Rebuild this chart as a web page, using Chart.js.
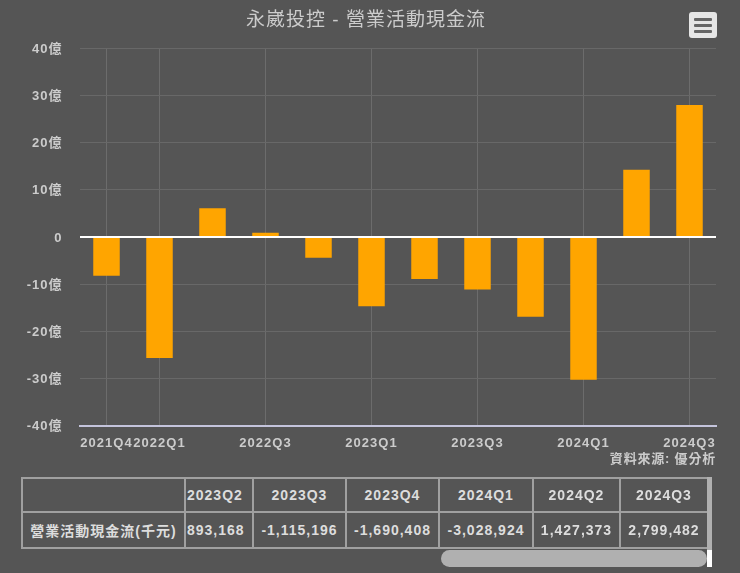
<!DOCTYPE html>
<html lang="zh-Hant">
<head>
<meta charset="utf-8">
<script src="https://cdn.jsdelivr.net/npm/chart.js@4/dist/chart.umd.min.js"></script>
<style>
html,body{margin:0;padding:0;background:#555;overflow:hidden;width:740px;height:573px;font-family:"Liberation Sans","Noto Sans CJK TC",sans-serif;}
canvas{position:absolute;left:0;top:0;}
#menu{position:absolute;left:689px;top:12px;width:28px;height:26px;background:#e6e6e6;border-radius:3px;}
#menu i{position:absolute;left:5px;width:18px;height:3px;background:#666;border-radius:1px;}
#source{position:absolute;right:24px;top:451px;color:#ccc;font-size:13px;font-weight:bold;letter-spacing:0.8px;line-height:16px;white-space:nowrap;}
#tbl{position:absolute;left:21px;top:477px;border-collapse:collapse;table-layout:fixed;width:686px;color:#ddd;font-size:14px;font-weight:bold;letter-spacing:1px;}
#tbl td{border:2px solid #a0a0a0;height:34px;padding:0;text-align:center;white-space:nowrap;overflow:hidden;box-sizing:border-box;}
#tbl td.clip{text-align:left;padding-left:1px;}
#vbar{position:absolute;left:707px;top:477px;width:5px;height:73px;background:#b0b0b0;}
#hbar{position:absolute;left:441px;top:550px;width:266px;height:17px;background:#b0b0b0;border-radius:9px;}
#corner{position:absolute;left:707px;top:550px;width:5px;height:17px;background:#fff;}
</style>
</head>
<body>
<canvas id="c" width="732" height="470"></canvas>
<div id="menu"><i style="top:6px"></i><i style="top:12px"></i><i style="top:18px"></i></div>
<div id="source"></div>
<table id="tbl"></table>
<div id="vbar"></div><div id="hbar"></div><div id="corner"></div>
<script>
const chartTitle = '永崴投控 - 營業活動現金流';
const sourceText = '資料來源: 優分析';
const categories = ['2021Q4','2022Q1','2022Q2','2022Q3','2022Q4','2023Q1','2023Q2','2023Q3','2023Q4','2024Q1','2024Q2','2024Q3'];
const shownTicks = ['2021Q4','2022Q1','2022Q3','2023Q1','2023Q3','2024Q1','2024Q3'];
const cashFlow = [-8.2,-25.7,6.1,0.9,-4.4,-14.7,-8.93,-11.15,-16.9,-30.29,14.27,27.99];
const tableHeaders = ['2023Q2','2023Q3','2023Q4','2024Q1','2024Q2','2024Q3'];
const tableRowLabel = '營業活動現金流(千元)';
const tableValues = ['893,168','-1,115,196','-1,690,408','-3,028,924','1,427,373','2,799,482'];
const tableColWidths = [163,68,93,93,94,87,88];

document.getElementById('source').textContent = sourceText;
const tbl = document.getElementById('tbl');
const cg = tableColWidths.map(w=>`<col style="width:${w}px">`).join('');
const cls = i => i===0 ? ' class="clip"' : '';
tbl.innerHTML = `<colgroup>${cg}</colgroup><tr><td></td>${tableHeaders.map((h,i)=>`<td${cls(i)}>${h}</td>`).join('')}</tr>`+
  `<tr style="height:36px"><td>${tableRowLabel}</td>${tableValues.map((v,i)=>`<td${cls(i)}>${v}</td>`).join('')}</tr>`;

const fontFamily = '"Liberation Sans","Noto Sans CJK TC",sans-serif';
const spacing = { id:'spacing',
  beforeLayout(c){ c.ctx.letterSpacing='1px'; },
  beforeDraw(c){ c.ctx.letterSpacing='1px'; } };

new Chart(document.getElementById('c'), {
  type:'bar',
  plugins:[spacing],
  data:{ labels:categories, datasets:[{ data:cashFlow, backgroundColor:'#ffa500', borderWidth:0, barPercentage:0.5, categoryPercentage:1 }] },
  options:{
    responsive:false, animation:false,
    layout:{ padding:{ left:16, right:16, top:0, bottom:0 } },
    plugins:{
      legend:{display:false}, tooltip:{enabled:false},
      title:{ display:true, text:chartTitle, color:'#ccc', font:{family:fontFamily,size:19,weight:'normal',lineHeight:1.2}, padding:{top:9.5,bottom:16.2} }
    },
    scales:{
      x:{
        afterFit(s){ s.height=44.5; },
        grid:{ offset:false, drawTicks:false, lineWidth:1,
          color:ctx=>shownTicks.includes(categories[ctx.index])?'#6c6c6c':'rgba(0,0,0,0)' },
        border:{ color:'#c4c4dc', width:2 },
        ticks:{ autoSkip:false, maxRotation:0, minRotation:0, padding:10, color:'#ccc',
          font:{family:fontFamily,size:13,weight:'bold'},
          callback(v){ const l=categories[v]; return shownTicks.includes(l)?l:''; } }
      },
      y:{
        min:-40,max:40,
        afterFit(s){ s.width=64; },
        grid:{ drawTicks:false, lineWidth:ctx=>ctx.tick.value===0?2:1, color:ctx=>ctx.tick.value===0?'#ffffff':'#686868' },
        border:{ display:false },
        ticks:{ stepSize:10, padding:17.5, color:'#ccc', font:{family:fontFamily,size:13,weight:'bold',lineHeight:0.16},
          callback:v=>['', v===0?'0':v+'億'] }
      }
    }
  }
});
</script>
</body>
</html>
